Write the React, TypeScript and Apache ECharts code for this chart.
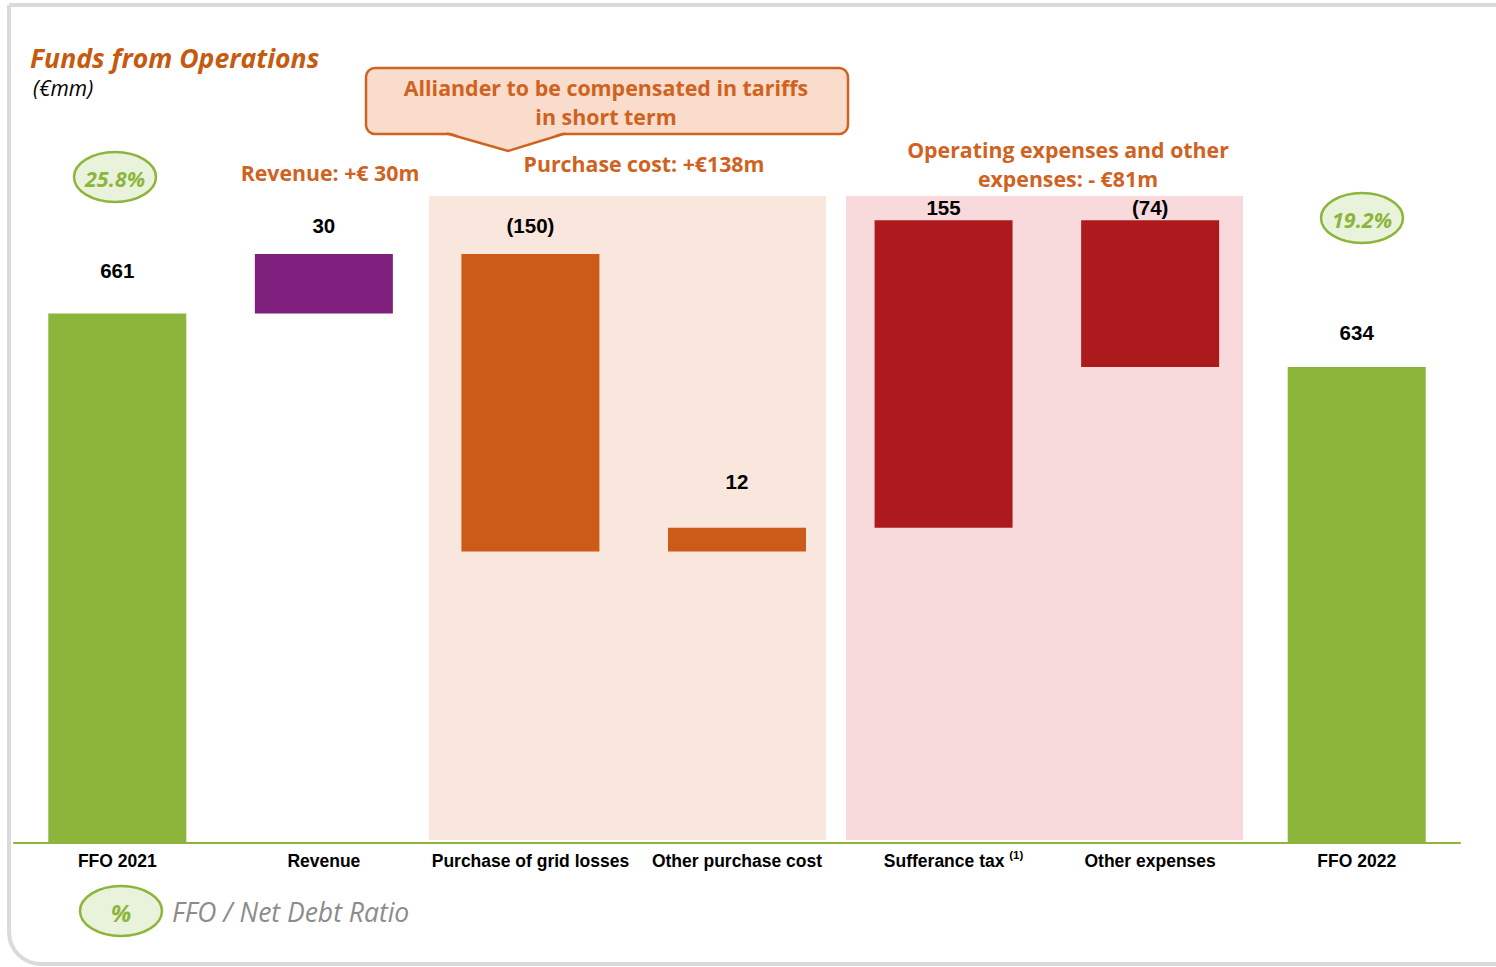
import React, { useEffect, useRef } from "react";
import * as echarts from "echarts";

const categories = [
  "FFO 2021",
  "Revenue",
  "Purchase of grid losses",
  "Other purchase cost",
  "Sufferance tax",
  "Other expenses",
  "FFO 2022",
];
const deltas = [661, 30, -150, 12, 155, -74, 634];
const isTotal = [true, false, false, false, false, false, true];
const valueLabels = ["661", "30", "(150)", "12", "155", "(74)", "634"];
const ratioStart = "25.8%";
const ratioEnd = "19.2%";

// styles
const barColors = ["#8db53c", "#7f1f7e", "#cc5a18", "#cc5a18", "#ad1a1e", "#ad1a1e", "#8db53c"];
const labelDistance = [33, 18, 18, 36, 2, 2, 24];
const ORANGE = "#d0621f";
const GREEN = "#8db53c";
const SANS = "'Open Sans', sans-serif";
const ARIAL = "'Liberation Sans', Arial, sans-serif";

function buildWaterfall() {
  const base: number[] = [];
  const height: number[] = [];
  let cum = 0;
  deltas.forEach((d, i) => {
    if (isTotal[i]) {
      base.push(0);
      height.push(d);
      cum = d;
    } else if (d >= 0) {
      base.push(cum);
      height.push(d);
      cum += d;
    } else {
      base.push(cum + d);
      height.push(-d);
      cum += d;
    }
  });
  return { base, height };
}

export default function App() {
  const ref = useRef<HTMLDivElement>(null);
  useEffect(() => {
    if (!ref.current) return;
    const chart = echarts.init(ref.current, null, { renderer: "svg" });
    const { base, height } = buildWaterfall();

    const orangeText = (text: string, x: number, y: number, size = 21.3) => ({
      type: "text",
      z: 12,
      style: {
        text,
        x,
        y,
        fill: ORANGE,
        font: `bold ${size}px ${SANS}`,
        textAlign: "center",
        textVerticalAlign: "middle",
      },
    });
    const oval = (cx: number, cy: number, text: string, size = 21.5) => [
      {
        type: "ellipse",
        z: 10,
        shape: { cx, cy, rx: 41, ry: 25 },
        style: { fill: "#e9f3dc", stroke: GREEN, lineWidth: 2.5 },
      },
      {
        type: "text",
        z: 11,
        style: {
          text,
          x: cx,
          y: cy + 1,
          fill: GREEN,
          font: `italic bold ${size}px ${SANS}`,
          textAlign: "center",
          textVerticalAlign: "middle",
        },
      },
    ];

    chart.setOption({
      animation: false,
      grid: { left: 14, right: 36, top: 137, bottom: 124, containLabel: false },
      xAxis: {
        type: "category",
        data: categories,
        axisLine: { show: true, lineStyle: { color: GREEN, width: 2 } },
        axisTick: { show: false },
        axisLabel: {
          interval: 0,
          margin: 6,
          color: "#000",
          fontFamily: ARIAL,
          fontWeight: "bold",
          fontSize: 17.5,
          formatter: (v: string) =>
            v === "Sufferance tax" ? "{ap|Sufferance tax }{sup|(1)}" : `{a|${v}}`,
          rich: {
            a: {
              fontFamily: ARIAL,
              fontWeight: "bold",
              fontSize: 17.5,
              color: "#000",
              lineHeight: 24,
            },
            ap: {
              fontFamily: ARIAL,
              fontWeight: "bold",
              fontSize: 17.5,
              color: "#000",
              lineHeight: 24,
              padding: [0, 0, 0, 20],
            },
            sup: {
              fontFamily: ARIAL,
              fontSize: 11.5,
              color: "#000",
              padding: [0, 0, 12, 0],
            },
          },
        },
      },
      yAxis: {
        type: "value",
        min: 394,
        max: 750,
        show: false,
        splitLine: { show: false },
      },
      series: [
        {
          type: "bar",
          stack: "wf",
          data: base,
          barWidth: 138,
          itemStyle: { color: "transparent" },
          emphasis: { disabled: true },
          silent: true,
          z: 3,
        },
        {
          type: "bar",
          stack: "wf",
          barWidth: 138,
          z: 3,
          data: height.map((h, i) => ({
            value: h,
            itemStyle: { color: barColors[i] },
            label: {
              show: true,
              position: "top",
              distance: labelDistance[i],
              formatter: valueLabels[i],
              color: "#000",
              fontFamily: ARIAL,
              fontWeight: "bold",
              fontSize: 20.5,
            },
          })),
        },
      ],
      graphic: [
        {
          type: "rect",
          z: -10,
          shape: { x: 9, y: 5, width: 1600, height: 959, r: [0, 0, 0, 32] },
          style: { fill: "#fff", stroke: "#dadada", lineWidth: 4 },
        },
        {
          type: "rect",
          z: -5,
          shape: { x: 429, y: 196, width: 397, height: 644 },
          style: { fill: "#f9e6dc" },
        },
        {
          type: "rect",
          z: -5,
          shape: { x: 846, y: 196, width: 397, height: 644 },
          style: { fill: "#f8d9dc" },
        },
        {
          type: "text",
          z: 10,
          style: {
            text: "Funds from Operations",
            x: 30,
            y: 58,
            fill: "#c55a11",
            font: `italic bold 26.6px ${SANS}`,
            textAlign: "left",
            textVerticalAlign: "middle",
          },
        },
        {
          type: "text",
          z: 10,
          style: {
            text: "(€mm)",
            x: 33,
            y: 88,
            fill: "#000",
            font: `italic 21px ${SANS}`,
            textAlign: "left",
            textVerticalAlign: "middle",
          },
        },
        {
          type: "rect",
          z: 10,
          shape: { x: 366, y: 68, width: 482, height: 66, r: 9 },
          style: { fill: "#f9dccb", stroke: ORANGE, lineWidth: 2.5 },
        },
        {
          type: "polygon",
          z: 11,
          shape: { points: [[445, 131], [508, 151], [567, 131]] },
          style: { fill: "#f9dccb" },
        },
        {
          type: "polyline",
          z: 12,
          shape: { points: [[447, 133.5], [508, 151], [565, 133.5]] },
          style: { stroke: ORANGE, lineWidth: 2.5, fill: null },
        },
        orangeText("Alliander to be compensated in tariffs", 606, 87.5, 21.4),
        orangeText("in short term", 606, 116.5, 21.4),
        orangeText("Revenue: +€ 30m", 330, 172),
        orangeText("Purchase cost: +€138m", 644, 163),
        orangeText("Operating expenses and other", 1068, 149.5),
        orangeText("expenses: - €81m", 1068, 178.5),
        ...oval(115, 177, ratioStart),
        ...oval(1362, 218, ratioEnd),
        ...oval(121, 911, "%", 24),
        {
          type: "text",
          z: 10,
          style: {
            text: "FFO / Net Debt Ratio",
            x: 172,
            y: 912,
            fill: "#8c8c8c",
            font: `italic 26.5px ${SANS}`,
            textAlign: "left",
            textVerticalAlign: "middle",
          },
        },
      ],
    });
    return () => chart.dispose();
  }, []);
  return (
    <div
      ref={ref}
      style={{ position: "absolute", left: 0, top: 0, width: 1496, height: 967, background: "#fff" }}
    />
  );
}
